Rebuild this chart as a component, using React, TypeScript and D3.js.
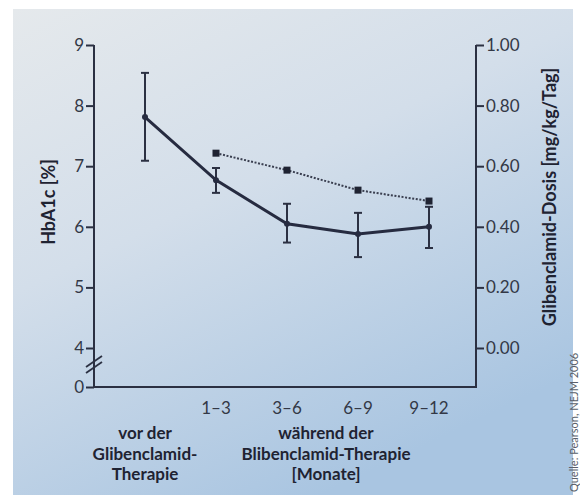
import React, { useRef, useEffect } from "react";
import * as d3 from "d3";

// Data
const categories = ["vor", "1–3", "3–6", "6–9", "9–12"];
const hba1c = [7.81, 6.77, 6.05, 5.88, 6.0];
const hba1cHigh = [8.54, 6.97, 6.38, 6.23, 6.33];
const hba1cLow = [7.09, 6.56, 5.74, 5.5, 5.65];
const dosisCats = ["1–3", "3–6", "6–9", "9–12"];
const dosis = [0.643, 0.587, 0.521, 0.485];
const leftTicks = [0, 4, 5, 6, 7, 8, 9];
const rightTicks = [0, 0.2, 0.4, 0.6, 0.8, 1.0];

const ChartSvg = () => {
  const svgRef = useRef<SVGSVGElement>(null);

  useEffect(() => {
    const width = 580;
    const height = 495;
    const svg = d3.select(svgRef.current).attr("width", width).attr("height", height);
    svg.selectAll("*").remove();

    const ink = "#2b3042";
    const font = "Lato, 'Open Sans', sans-serif";

    // background
    const defs = svg.append("defs");
    const grad = defs
      .append("linearGradient")
      .attr("id", "bg")
      .attr("x1", 0)
      .attr("y1", 0)
      .attr("x2", 0.55)
      .attr("y2", 1);
    grad.append("stop").attr("offset", "0%").attr("stop-color", "#e5e9ec");
    grad.append("stop").attr("offset", "45%").attr("stop-color", "#d3deea");
    grad.append("stop").attr("offset", "100%").attr("stop-color", "#a9c5e1");
    svg.append("rect").attr("width", width).attr("height", height).attr("fill", "#fff");
    svg
      .append("rect")
      .attr("x", 13)
      .attr("y", 9)
      .attr("width", 560)
      .attr("height", height - 9)
      .attr("fill", "url(#bg)");

    // Scales
    const xLeft = 94;
    const xRight = 476;
    const yBottom = 387;
    const yScale = d3.scaleLinear().domain([0, 4, 9]).range([yBottom, 348, 45]);
    const y2Scale = d3.scaleLinear().domain([0, 1]).range([348, 45]);
    const xScale = d3.scalePoint<string>().domain(categories).range([145, 429]);

    // Axes
    const yAxis = d3
      .axisLeft(yScale)
      .tickValues(leftTicks)
      .tickFormat((d) => `${d}`)
      .tickSize(8)
      .tickPadding(2);
    const gy = svg.append("g").attr("transform", `translate(${xLeft},0)`).call(yAxis);
    gy.select(".domain").remove();

    const y2Axis = d3
      .axisRight(y2Scale)
      .tickValues(rightTicks)
      .tickFormat(d3.format(".2f"))
      .tickSize(8)
      .tickPadding(2);
    const gy2 = svg.append("g").attr("transform", `translate(${xRight},0)`).call(y2Axis);
    gy2.select(".domain").remove();

    [gy, gy2].forEach((g) => {
      g.selectAll("line").attr("stroke", ink).attr("stroke-width", 2);
      g.selectAll("text")
        .attr("fill", "#333846")
        .style("font-family", font)
        .style("font-size", "17px");
    });

    // axis lines
    svg
      .append("path")
      .attr("d", `M${xLeft},45V${yBottom}H${xRight}V45`)
      .attr("fill", "none")
      .attr("stroke", ink)
      .attr("stroke-width", 2);

    // axis break
    [0, 6].forEach((o) => {
      svg
        .append("line")
        .attr("x1", xLeft - 8)
        .attr("y1", 373 - o)
        .attr("x2", xLeft + 8)
        .attr("y2", 362 - o)
        .attr("stroke", ink)
        .attr("stroke-width", 1.8);
    });

    // x tick labels
    svg
      .append("g")
      .selectAll("text")
      .data(categories.slice(1))
      .join("text")
      .attr("x", (d) => xScale(d)!)
      .attr("y", 414)
      .attr("text-anchor", "middle")
      .attr("fill", "#333846")
      .style("font-family", font)
      .style("font-size", "17px")
      .text((d) => d);

    // group labels
    const labelGroup = (cx: number, lines: string[]) => {
      lines.forEach((l, i) => {
        svg
          .append("text")
          .attr("x", cx)
          .attr("y", 439 + i * 20.5)
          .attr("text-anchor", "middle")
          .attr("fill", "#1f2332")
          .style("font-family", font)
          .style("font-weight", 700)
          .style("font-size", "17px")
          .text(l);
      });
    };
    labelGroup(xScale("vor")!, ["vor der", "Glibenclamid-", "Therapie"]);
    labelGroup(326, ["während der", "Blibenclamid-Therapie", "[Monate]"]);

    // axis titles
    svg
      .append("text")
      .attr("transform", `translate(55,202) rotate(-90)`)
      .attr("text-anchor", "middle")
      .attr("fill", "#1f2332")
      .style("font-family", font)
      .style("font-weight", 700)
      .style("font-size", "18px")
      .text("HbA1c [%]");
    svg
      .append("text")
      .attr("transform", `translate(556,197) rotate(-90)`)
      .attr("text-anchor", "middle")
      .attr("fill", "#1f2332")
      .style("font-family", font)
      .style("font-weight", 700)
      .style("font-size", "18px")
      .text("Glibenclamid-Dosis [mg/kg/Tag]");

    // source note at the right edge
    svg
      .append("text")
      .attr("transform", `translate(578,492) rotate(-90)`)
      .attr("fill", "#5a5f6a")
      .style("font-family", font)
      .style("font-size", "11px")
      .text("Quelle: Pearson, NEJM 2006");

    // Dosis line
    const dosisLine = d3
      .line<number>()
      .x((_, i) => xScale(dosisCats[i])!)
      .y((d) => y2Scale(d));
    svg
      .append("path")
      .datum(dosis)
      .attr("d", dosisLine)
      .attr("fill", "none")
      .attr("stroke", "#3a3f50")
      .attr("stroke-width", 2)
      .attr("stroke-dasharray", "2,1.6");
    svg
      .append("g")
      .selectAll("rect")
      .data(dosis)
      .join("rect")
      .attr("x", (_, i) => xScale(dosisCats[i])! - 3.5)
      .attr("y", (d) => y2Scale(d) - 3.5)
      .attr("width", 7)
      .attr("height", 7)
      .attr("fill", "#1f2332");

    // Error bars
    const eb = svg.append("g").attr("stroke", ink).attr("stroke-width", 2);
    categories.forEach((c, i) => {
      const x = xScale(c)!;
      eb.append("line")
        .attr("x1", x)
        .attr("x2", x)
        .attr("y1", yScale(hba1cHigh[i]))
        .attr("y2", yScale(hba1cLow[i]));
      [hba1cHigh[i], hba1cLow[i]].forEach((v) => {
        eb.append("line")
          .attr("x1", x - 4)
          .attr("x2", x + 4)
          .attr("y1", yScale(v))
          .attr("y2", yScale(v));
      });
    });

    // HbA1c line
    const line = d3
      .line<number>()
      .x((_, i) => xScale(categories[i])!)
      .y((d) => yScale(d));
    svg
      .append("path")
      .datum(hba1c)
      .attr("d", line)
      .attr("fill", "none")
      .attr("stroke", "#262b40")
      .attr("stroke-width", 3);
    svg
      .append("g")
      .selectAll("circle")
      .data(hba1c)
      .join("circle")
      .attr("cx", (_, i) => xScale(categories[i])!)
      .attr("cy", (d) => yScale(d))
      .attr("r", 3)
      .attr("fill", "#262b40");
  }, []);

  return <svg ref={svgRef} style={{ position: "absolute", left: 0, top: 0 }} />;
};

const App = () => {
  return <ChartSvg />;
};

export default App;
